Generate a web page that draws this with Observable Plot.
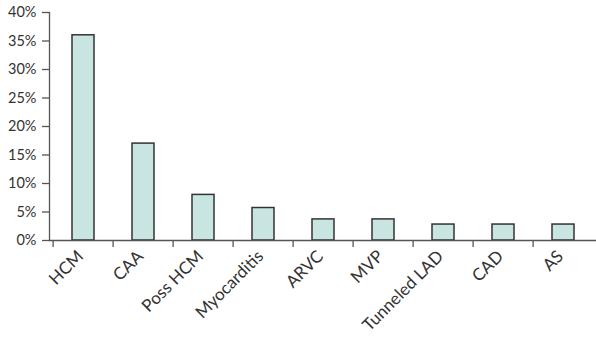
<!DOCTYPE html>
<html><head><meta charset="utf-8">
<script src="https://cdn.jsdelivr.net/npm/d3@7"></script>
<script src="https://cdn.jsdelivr.net/npm/@observablehq/plot@0.6"></script>
<style>body{margin:0;background:#fff;} svg{font-family:Lato,sans-serif;}</style>
</head><body><div id="chart"></div>
<script>
const categories = ["HCM","CAA","Poss HCM","Myocarditis","ARVC","MVP","Tunneled LAD","CAD","AS"];
const values = [36, 17, 8, 5.7, 3.7, 3.7, 2.8, 2.8, 2.8];
const yTicks = [0,5,10,15,20,25,30,35,40];
const data = categories.map((c,i)=>({c, v: values[i]}));
const W = 596, H = 339, mL = 49, mR = 0, mT = 12, mB = 99;
const bw = (W - mL - mR) / categories.length;
const chart = Plot.plot({
  width: W, height: H, marginLeft: mL, marginRight: mR, marginTop: mT, marginBottom: mB,
  style: {fontFamily: "Lato, sans-serif", fontSize: "14px", color: "#333", background: "#fff"},
  x: {domain: categories, padding: 0, axis: null},
  y: {domain: [0, 40], axis: null},
  marks: [
    Plot.barY(data, {x: "c", y: "v", fill: "#c9e5e1", stroke: "#333", strokeWidth: 1.5, insetLeft: 19, insetRight: 19}),
    Plot.ruleY([0], {stroke: "#555", strokeWidth: 1.3}),
    Plot.frame({anchor: "left", stroke: "#555", strokeWidth: 1.3}),
    Plot.axisY({ticks: yTicks, tickSize: 7, tickPadding: 6, tickFormat: d => d + "%", stroke: "#555", strokeWidth: 1.3, fill: "#333", fontSize: 14.5, label: null}),
    Plot.axisX({tickSize: 7, text: null, dx: -bw/2, stroke: "#555", strokeWidth: 1.3, label: null}),
    Plot.axisX({tickSize: 0, tickRotate: -45, tickPadding: 13, dx: -3, fill: "#333", fontSize: 17, label: null})
  ]
});
document.getElementById("chart").appendChild(chart);
</script></body></html>
